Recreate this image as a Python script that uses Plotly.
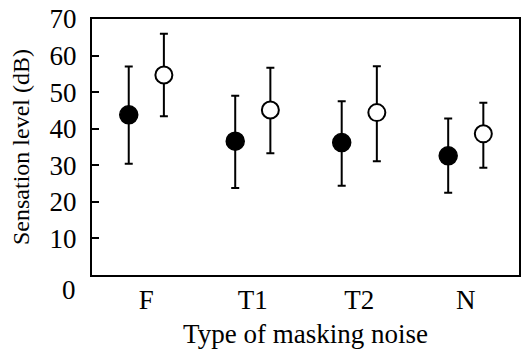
import plotly.graph_objects as go

categories = ["F", "T1", "T2", "N"]
filled_mean = [43.8, 36.6, 36.2, 32.6]
filled_upper = [57.0, 49.0, 47.5, 42.8]
filled_lower = [30.4, 23.8, 24.4, 22.5]
open_mean = [54.7, 45.1, 44.4, 38.6]
open_upper = [66.0, 56.7, 57.1, 47.1]
open_lower = [43.4, 33.3, 31.1, 29.3]
y_ticks = [0, 10, 20, 30, 40, 50, 60, 70]

offset = 0.165
xpos = list(range(len(categories)))
FONT = "Liberation Serif"

def err(mean, up, lo):
    return ([u - m for u, m in zip(up, mean)], [m - l for m, l in zip(mean, lo)])

fe_plus, fe_minus = err(filled_mean, filled_upper, filled_lower)
oe_plus, oe_minus = err(open_mean, open_upper, open_lower)

fig = go.Figure()
fig.add_trace(go.Scatter(
    x=[p - offset for p in xpos], y=filled_mean, mode="markers",
    marker=dict(size=18, color="black", line=dict(color="black", width=1.5)),
    error_y=dict(type="data", symmetric=False, array=fe_plus, arrayminus=fe_minus,
                 color="black", thickness=2, width=4),
    showlegend=False, cliponaxis=False))
fig.add_trace(go.Scatter(
    x=[p + offset for p in xpos], y=open_mean, mode="markers",
    marker=dict(size=17, color="white", line=dict(color="black", width=2)),
    error_y=dict(type="data", symmetric=False, array=oe_plus, arrayminus=oe_minus,
                 color="black", thickness=2, width=4),
    showlegend=False, cliponaxis=False))

fig.update_layout(
    width=524, height=349,
    margin=dict(l=92, r=3, t=19, b=74),
    paper_bgcolor="white", plot_bgcolor="white",
    font=dict(family=FONT, color="black", size=27),
    xaxis=dict(range=[-0.51, 3.5], tickvals=xpos, ticktext=categories,
               showgrid=False, zeroline=False, showline=True, linecolor="black",
               linewidth=2, mirror=True, ticks="", tickfont=dict(size=27),
               title=dict(text="Type of masking noise", font=dict(size=27), standoff=12)),
    yaxis=dict(range=[0, 70], tickvals=y_ticks,
               ticktext=["" if v == 0 else str(v) for v in y_ticks],
               showgrid=False, zeroline=False, showline=True, linecolor="black",
               linewidth=2, mirror=True, ticks="inside", ticklen=7, tickwidth=1.5,
               tickcolor="black", tickfont=dict(size=27), ticklabelstandoff=8,
               title=dict(text="Sensation level (dB)", font=dict(size=24), standoff=13)),
)
fig.add_annotation(x=0, xref="paper", xanchor="right", xshift=-14, y=0, yref="y",
                   yanchor="middle", yshift=-15,
                   text="0", showarrow=False, font=dict(size=27, family=FONT))

fig.write_html("out.html")
